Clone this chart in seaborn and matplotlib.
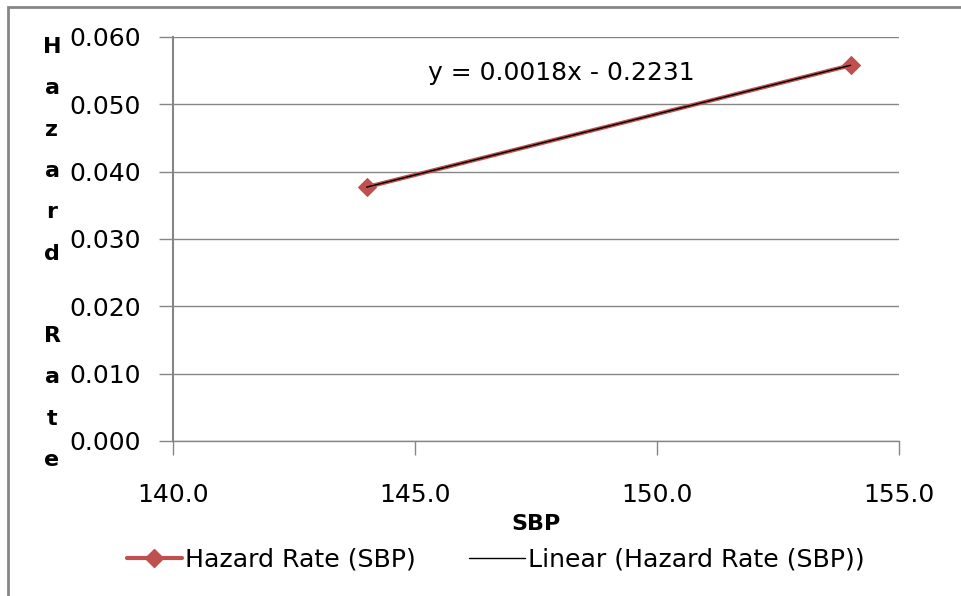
import numpy as np
import matplotlib
matplotlib.use("Agg")
import matplotlib.pyplot as plt
import seaborn as sns
from matplotlib.lines import Line2D
from matplotlib.patches import Rectangle
from matplotlib.ticker import FormatStrFormatter

sbp = [144, 154]
hazard = [0.0377, 0.0558]
y_ticks = [0.0, 0.01, 0.02, 0.03, 0.04, 0.05, 0.06]
x_ticks = [140, 145, 150, 155]
series_label = "Hazard Rate (SBP)"
trend_label = "Linear (Hazard Rate (SBP))"
ylabel_letters = list("Hazard Rate")

sns.set_style("white")
plt.rcParams['font.family'] = ['DejaVu Sans']
plt.rcParams['text.color'] = 'black'
plt.rcParams['xtick.labelcolor'] = 'black'
plt.rcParams['ytick.labelcolor'] = 'black'
plt.rcParams['axes.labelcolor'] = 'black'

red = "#C0504D"
grid = "#868686"

fig = plt.figure(figsize=(9.62, 5.96), dpi=100)
ax = fig.add_axes([173/962, 1-441/596, (899-173)/962, (441-37)/596])

sns.lineplot(x=sbp, y=hazard, ax=ax, color=red, lw=3, marker='D',
             markersize=9, markeredgecolor=red, zorder=3)
sns.regplot(x=np.array(sbp), y=np.array(hazard), ax=ax, scatter=False, ci=None,
            truncate=True, line_kws=dict(color='black', lw=1, zorder=4))

slope, intercept = np.polyfit(sbp, hazard, 1)
sign = "-" if intercept < 0 else "+"
ax.text(0.535, 0.91, "y = %.4fx %s %.4f" % (slope, sign, 0.2231),
        transform=ax.transAxes, ha='center', va='center', fontsize=18)

ax.set_xlim(140, 155)
ax.set_ylim(0, 0.06)
ax.set_xticks(x_ticks)
ax.set_yticks(y_ticks)
ax.xaxis.set_major_formatter(FormatStrFormatter('%.1f'))
ax.yaxis.set_major_formatter(FormatStrFormatter('%.3f'))
ax.yaxis.grid(True, color=grid, lw=1)
ax.xaxis.grid(False)
for s in ['top', 'right']:
    ax.spines[s].set_visible(False)
ax.spines['left'].set_color(grid)
ax.spines['left'].set_linewidth(1.5)
ax.spines['bottom'].set_color(grid)
ax.spines['bottom'].set_linewidth(1)
ax.tick_params(axis='y', length=10, color=grid, width=1, pad=13, labelsize=18, left=True)
ax.tick_params(axis='x', length=10, color=grid, width=1, pad=20, labelsize=18, bottom=True)
ax.set_xlabel("SBP", fontsize=16, fontweight='bold', labelpad=5)
ax.set_ylabel("")

# vertical stacked y label
top_y, step = 47, 41.3
for i, ch in enumerate(ylabel_letters):
    if ch == ' ':
        continue
    fig.text(52/962, 1-(top_y + i*step)/596, ch, ha='center', va='center',
             fontsize=16, fontweight='bold')

handles = [Line2D([], [], color=red, lw=3, marker='D', markersize=9),
           Line2D([], [], color='black', lw=1)]
fig.legend(handles, [series_label, trend_label], loc='center', ncol=2,
           bbox_to_anchor=(495.5/962, 1-560/596), frameon=False, fontsize=18.2,
           handlelength=2.2, handletextpad=0.12, columnspacing=2.1,
           borderpad=0, borderaxespad=0)

fig.patches.append(Rectangle((8/962, -0.5), 2, 1.5-7/596, transform=fig.transFigure,
                             fill=False, edgecolor=grid, lw=2))

fig.savefig("out.png", dpi=100)
